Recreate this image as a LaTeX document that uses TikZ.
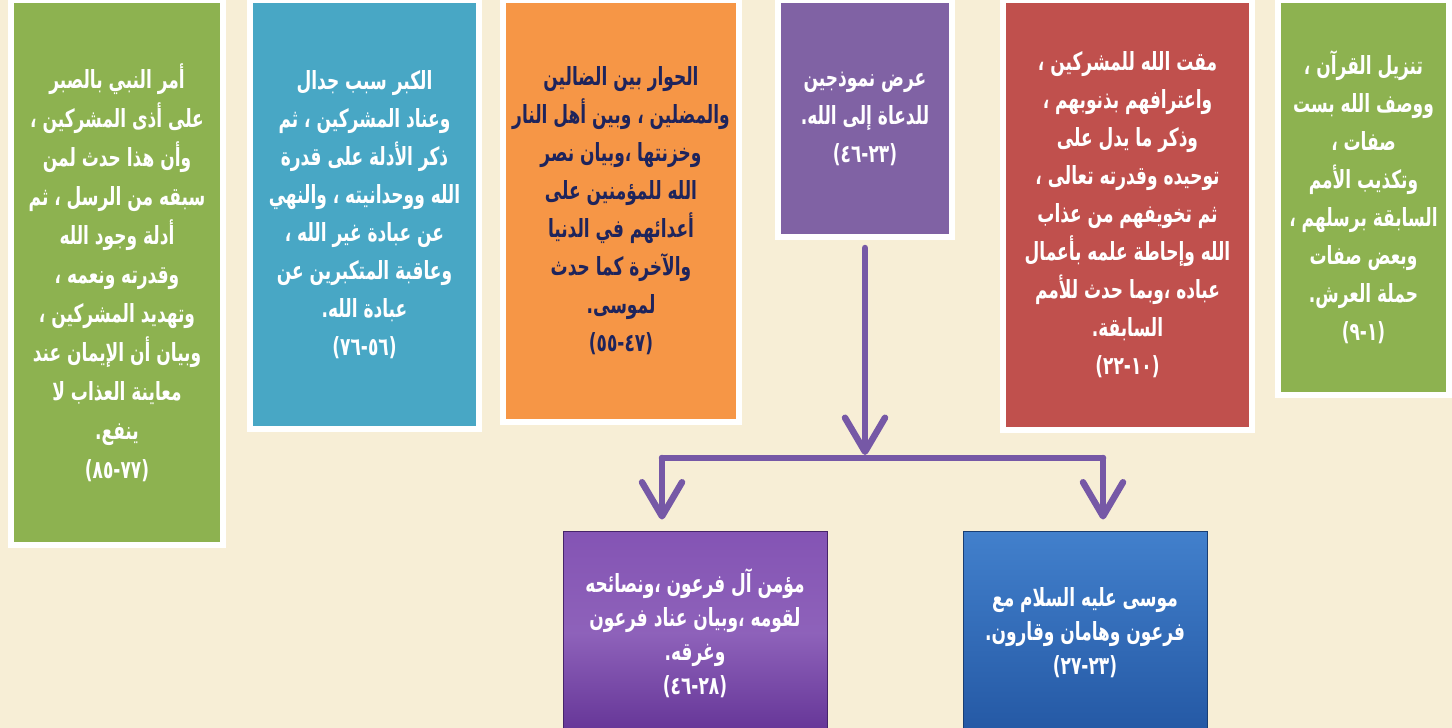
\documentclass[tikz,border=0pt]{standalone}
\usepackage{fontspec}
\usetikzlibrary{arrows.meta,shadows}
\TeXXeTstate=1
\newfontfamily\arabicfont[Script=Arabic,FakeStretch=0.68]{DejaVu Sans}
\newcommand{\rl}[1]{\beginR #1\endR}
\definecolor{bgc}{RGB}{247,238,214}
\definecolor{cgreen}{RGB}{141,178,80}
\definecolor{cteal}{RGB}{72,167,197}
\definecolor{corange}{RGB}{246,150,70}
\definecolor{cpurple}{RGB}{128,98,164}
\definecolor{cred}{RGB}{192,80,77}
\definecolor{cnavy}{RGB}{30,36,92}
\definecolor{cline}{RGB}{118,88,166}
\definecolor{pdark}{RGB}{100,52,150}
\definecolor{plight}{RGB}{132,84,180}
\definecolor{bdark}{RGB}{36,88,164}
\definecolor{blight}{RGB}{66,128,204}
\tikzset{
  panel/.style={draw=white, line width=6pt, inner sep=0pt, align=center,
    font=\arabicfont\bfseries\fontsize{25}{38}\selectfont, text=white,
    drop shadow={opacity=0.35, shadow xshift=2pt, shadow yshift=-3pt}},
  lower/.style={inner sep=0pt, align=center,
    font=\arabicfont\bfseries\fontsize{25}{34}\selectfont, text=white,
    draw=#1!70!black, line width=1pt},
  conn/.style={draw=cline, line width=6.5pt, line cap=round, line join=round,
    -{Straight Barb[length=34pt,width=40pt,round]}},
  bar/.style={draw=cline, line width=6.5pt, line cap=round}
}
\begin{document}
\begin{tikzpicture}[x=1pt,y=-1pt]
\useasboundingbox (0,0) rectangle (1452,728);
\clip (0,0) rectangle (1452,728);
\fill[bgc] (0,0) rectangle (1452,728);

\node[panel, fill=cgreen, minimum width=212pt, minimum height=545pt, font=\arabicfont\bfseries\fontsize{25}{39}\selectfont] (b1) at (117,272.5) {%
\rl{أمر النبي بالصبر}\\
\rl{على أذى المشركين ،}\\
\rl{وأن هذا حدث لمن}\\
\rl{سبقه من الرسل ، ثم}\\
\rl{أدلة وجود الله}\\
\rl{وقدرته ونعمه ،}\\
\rl{وتهديد المشركين ،}\\
\rl{وبيان أن الإيمان عند}\\
\rl{معاينة العذاب لا}\\
\rl{ينفع.}\\
\rl{(٧٧-٨٥)}};

\node[panel, fill=cteal, minimum width=229pt, minimum height=429pt] (b2) at (364.5,214.5) {%
\rl{الكبر سبب جدال}\\
\rl{وعناد المشركين ، ثم}\\
\rl{ذكر الأدلة على قدرة}\\
\rl{الله ووحدانيته ، والنهي}\\
\rl{عن عبادة غير الله ،}\\
\rl{وعاقبة المتكبرين عن}\\
\rl{عبادة الله.}\\
\rl{(٥٦-٧٦)}};

\node[panel, fill=corange, text=cnavy, minimum width=236pt, minimum height=422pt] (b3) at (621,211) {%
\rl{الحوار بين الضالين}\\
\rl{والمضلين ، وبين أهل النار}\\
\rl{وخزنتها ،وبيان نصر}\\
\rl{الله للمؤمنين على}\\
\rl{أعدائهم في الدنيا}\\
\rl{والآخرة كما حدث}\\
\rl{لموسى.}\\
\rl{(٤٧-٥٥)}};

\node[panel, fill=cpurple, minimum width=174pt, minimum height=237pt] (b4) at (865,118.5) {%
\rl{عرض نموذجين}\\
\rl{للدعاة إلى الله.}\\
\rl{(٢٣-٤٦)}};

\node[panel, fill=cred, minimum width=249pt, minimum height=430pt] (b5) at (1127.5,215) {%
\rl{مقت الله للمشركين ،}\\
\rl{واعترافهم بذنوبهم ،}\\
\rl{وذكر ما يدل على}\\
\rl{توحيده وقدرته تعالى ،}\\
\rl{ثم تخويفهم من عذاب}\\
\rl{الله وإحاطة علمه بأعمال}\\
\rl{عباده ،وبما حدث للأمم}\\
\rl{السابقة.}\\
\rl{(١٠-٢٢)}};

\node[panel, fill=cgreen, minimum width=171pt, minimum height=395pt] (b6) at (1363.5,197.5) {%
\rl{تنزيل القرآن ،}\\
\rl{ووصف الله بست}\\
\rl{صفات ،}\\
\rl{وتكذيب الأمم}\\
\rl{السابقة برسلهم ،}\\
\rl{وبعض صفات}\\
\rl{حملة العرش.}\\
\rl{(١-٩)}};

\node[lower=pdark, top color=plight, bottom color=pdark, middle color=plight!92!white, minimum width=264pt, minimum height=204pt] (b7) at (695,633) {%
\rl{مؤمن آل فرعون ،ونصائحه}\\
\rl{لقومه ،وبيان عناد فرعون}\\
\rl{وغرقه.}\\
\rl{(٢٨-٤٦)}};

\node[lower=bdark, top color=blight, bottom color=bdark, minimum width=244pt, minimum height=204pt] (b8) at (1085,633) {%
\rl{موسى عليه السلام مع}\\
\rl{فرعون وهامان وقارون.}\\
\rl{(٢٣-٢٧)}};

\coordinate (j) at (865,455);
\coordinate (jl) at (662,458);
\coordinate (jr) at (1103,458);
\draw[conn, shorten <=8pt] (b4.south) -- (j);
\draw[bar] (jl) -- (jr);
\draw[conn, shorten >=11pt] (jl) -- (jl |- b7.north);
\draw[conn, shorten >=11pt] (jr) -- (jr |- b8.north);
\end{tikzpicture}
\end{document}
